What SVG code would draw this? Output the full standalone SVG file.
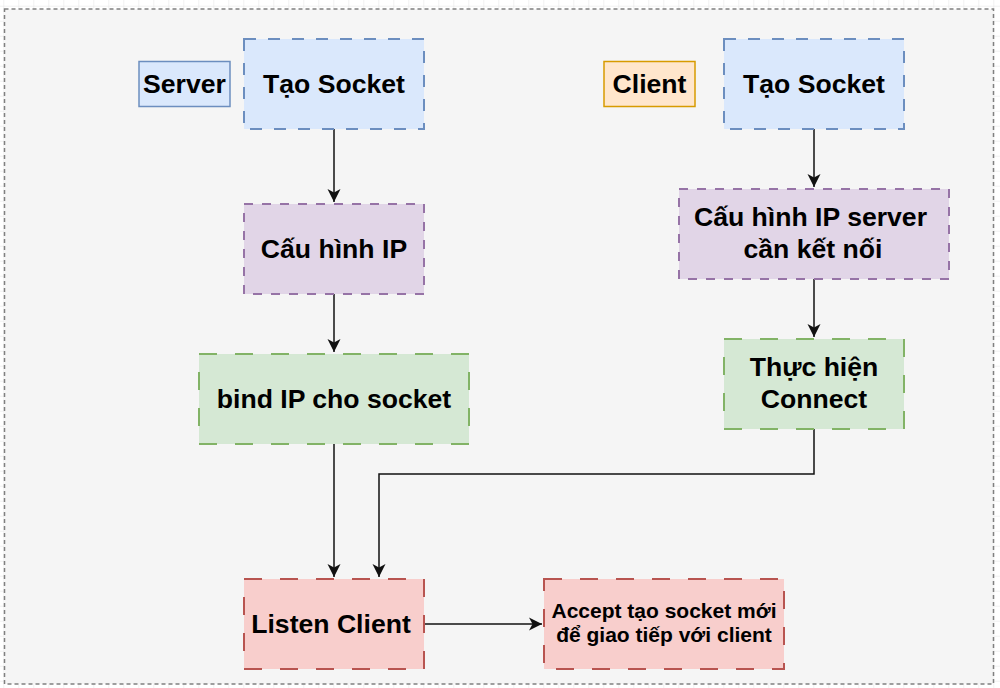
<svg xmlns="http://www.w3.org/2000/svg" width="1000" height="688" viewBox="0 0 1000 688">
  <style>
    .lbl { font-family: "Liberation Sans", Arial, Helvetica, sans-serif; font-weight: bold; fill: #000; text-anchor: middle; }
    .big { font-size: 26.6px; }
    .small { font-size: 21px; }
    .node { stroke-width: 2; }
    .blue { fill: #dae8fc; stroke: #6c8ebf; }
    .purple { fill: #e1d5e7; stroke: #9673a6; }
    .green { fill: #d5e8d4; stroke: #82b366; }
    .red { fill: #f8cecc; stroke: #b85450; }
    .orange { fill: #ffe6cc; stroke: #d79b00; }
    .node.blue { stroke-dasharray: 12 12; }
    .node.purple { stroke-dasharray: 9 9; }
    .node.green, .node.red { stroke-dasharray: 18 18; }
    .edge { fill: none; stroke: #111; stroke-width: 1.5; }
  </style>
  <defs>
    <pattern id="grid" x="3.3" y="5.7" width="15" height="15" patternUnits="userSpaceOnUse">
      <path d="M0,0 H15 M0,0 V15" fill="none" stroke="#e4e4e4" stroke-width="1"/>
    </pattern>
    <marker id="arr" markerUnits="userSpaceOnUse" markerWidth="16" markerHeight="16" viewBox="-14 -8 16 16" refX="0" refY="0" orient="auto">
      <path d="M0,0 L-13,-6.5 L-9.5,0 L-13,6.5 Z" fill="#111"/>
    </marker>
  </defs>

  <rect x="0" y="0" width="1000" height="688" fill="#ffffff"/>
  <rect x="0" y="0" width="1000" height="688" fill="url(#grid)"/>
  <rect id="container" x="4.5" y="9" width="989" height="675" fill="#f5f5f5" stroke="#808080" stroke-width="1.5" stroke-dasharray="4 3"/>

  <g id="connectors">
    <path class="edge" d="M334,129 V202" marker-end="url(#arr)"/>
    <path class="edge" d="M334,294 V352" marker-end="url(#arr)"/>
    <path class="edge" d="M334,444 V577" marker-end="url(#arr)"/>
    <path class="edge" d="M814,129 V187" marker-end="url(#arr)"/>
    <path class="edge" d="M814,279 V337" marker-end="url(#arr)"/>
    <path class="edge" d="M814,429 V474 H379 V577" marker-end="url(#arr)"/>
    <path class="edge" d="M424,624 H542" marker-end="url(#arr)"/>
  </g>

  <g id="server-label">
    <rect class="blue" x="139" y="61.5" width="91" height="45" stroke-width="1.5"/>
    <text class="lbl big" x="184.5" y="93">Server</text>
  </g>
  <g id="server-create">
    <rect class="node blue" x="244" y="39" width="180" height="90"/>
    <text class="lbl big" x="334" y="93">Tạo Socket</text>
  </g>
  <g id="server-config">
    <rect class="node purple" x="244" y="204" width="180" height="90"/>
    <text class="lbl big" x="334" y="258">Cấu hình IP</text>
  </g>
  <g id="server-bind">
    <rect class="node green" x="199" y="354" width="270" height="90"/>
    <text class="lbl big" x="334" y="408">bind IP cho socket</text>
  </g>
  <g id="server-listen">
    <rect class="node red" x="244" y="579" width="180" height="90"/>
    <text class="lbl big" x="331" y="633">Listen Client</text>
  </g>
  <g id="server-accept">
    <rect class="node red" x="544" y="579" width="240" height="90"/>
    <text class="lbl small" x="664" y="618">Accept tạo socket mới</text>
    <text class="lbl small" x="664" y="642">để giao tiếp với client</text>
  </g>

  <g id="client-label">
    <rect class="orange" x="604" y="61.5" width="91" height="45" stroke-width="1.5"/>
    <text class="lbl big" x="649.5" y="93">Client</text>
  </g>
  <g id="client-create">
    <rect class="node blue" x="724" y="39" width="180" height="90"/>
    <text class="lbl big" x="814" y="93">Tạo Socket</text>
  </g>
  <g id="client-config">
    <rect class="node purple" x="679" y="189" width="270" height="90"/>
    <text class="lbl big" x="810.5" y="226">Cấu hình IP server</text>
    <text class="lbl big" x="813" y="258">cần kết nối</text>
  </g>
  <g id="client-connect">
    <rect class="node green" x="724" y="339" width="180" height="90"/>
    <text class="lbl big" x="814" y="376">Thực hiện</text>
    <text class="lbl big" x="814" y="408">Connect</text>
  </g>
</svg>
